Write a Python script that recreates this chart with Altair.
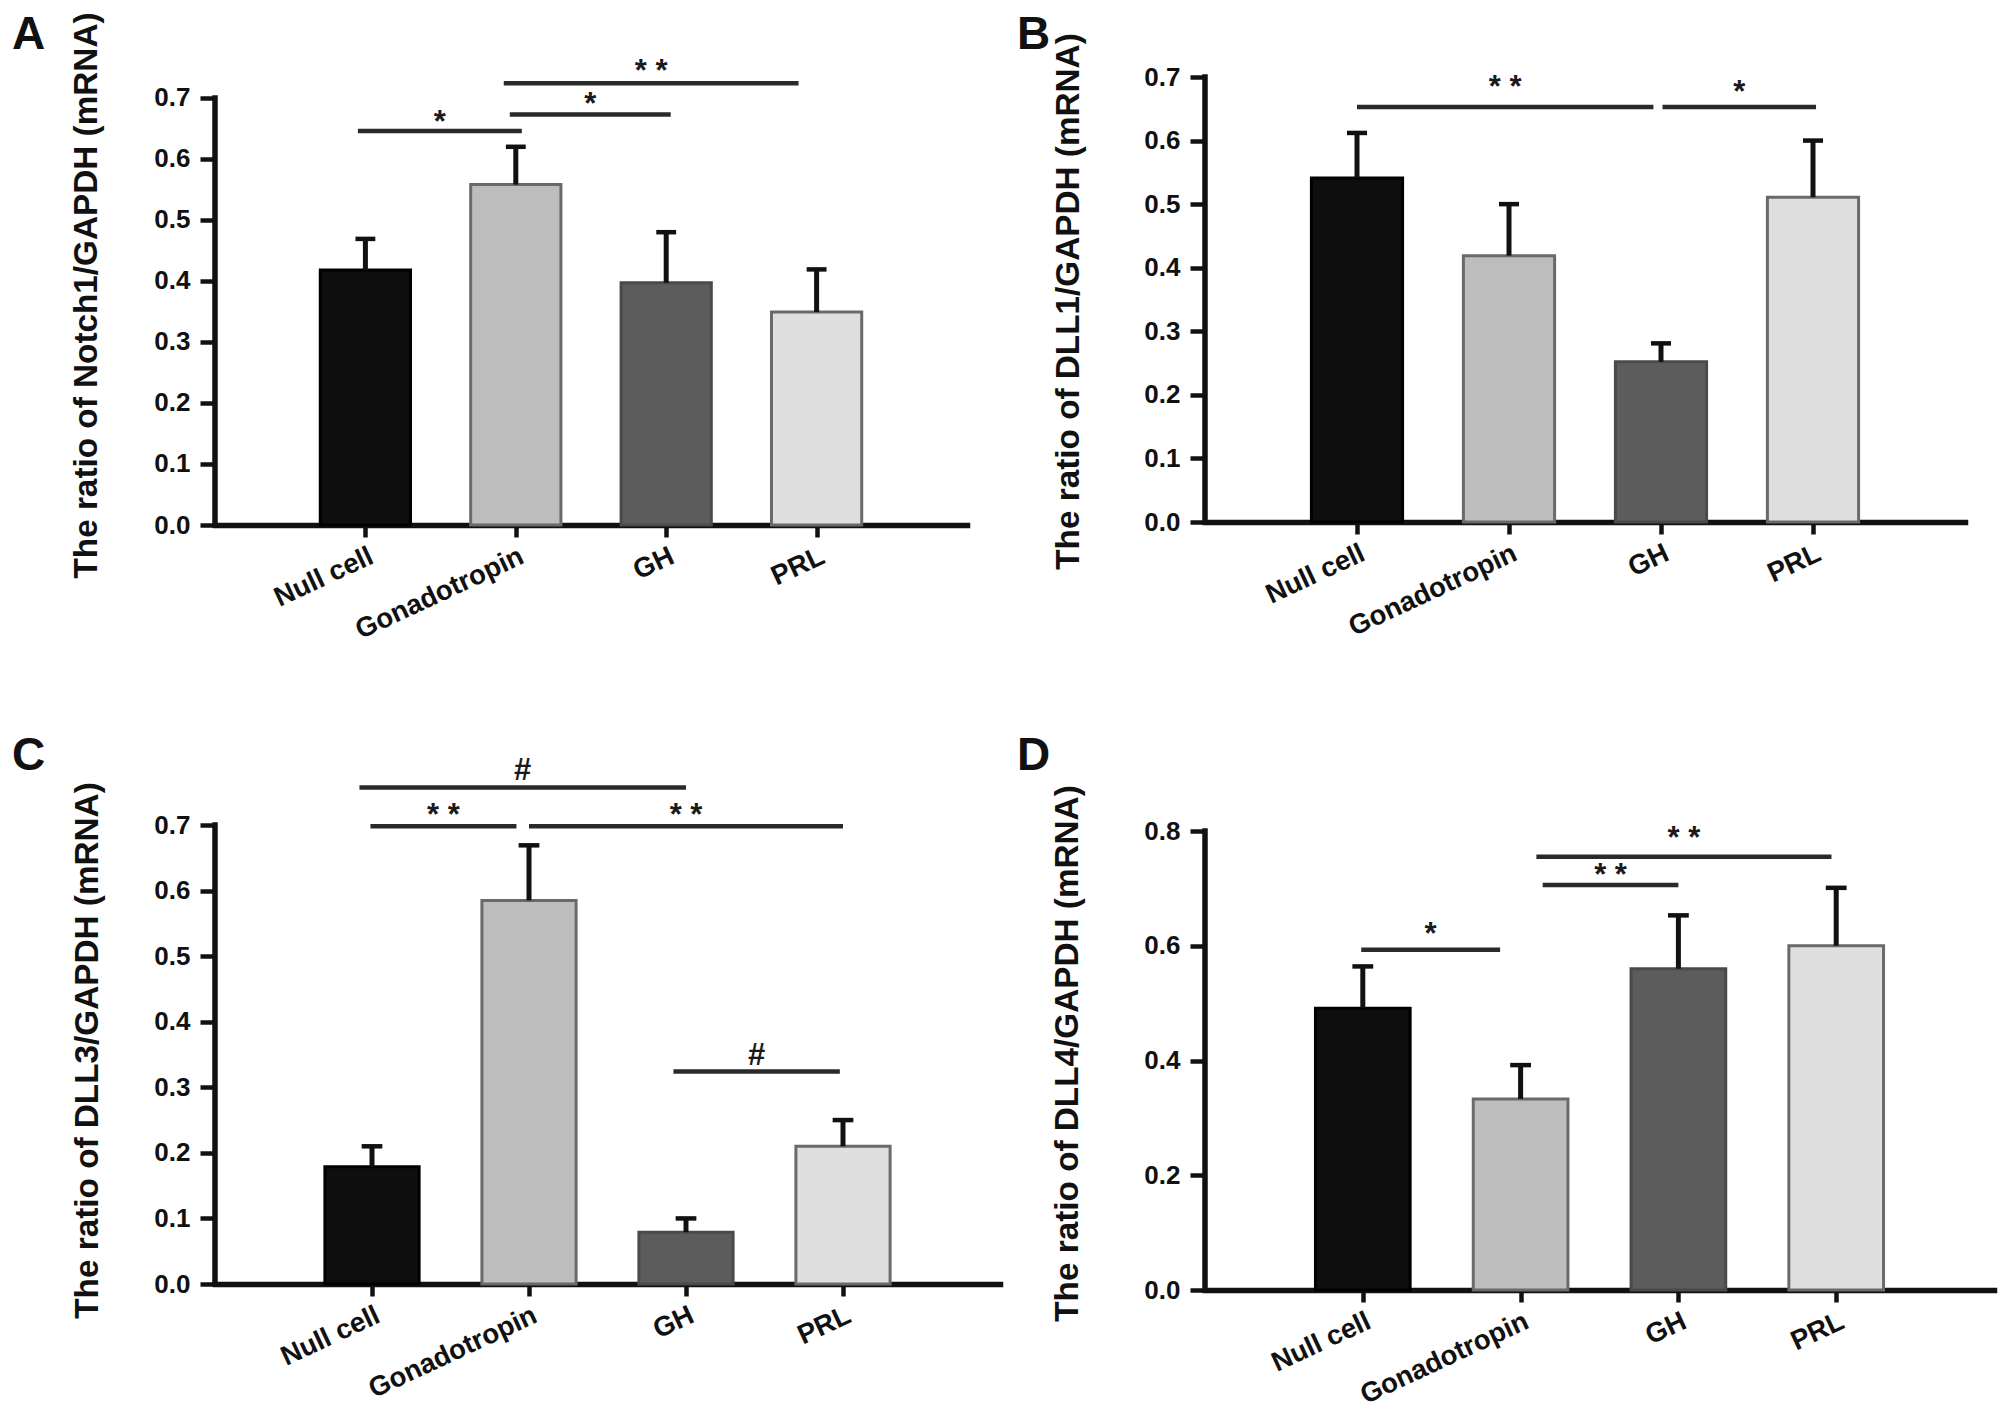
import json
import altair as alt
import pandas as pd

# ---------------- data ----------------
categories = ["Null cell", "Gonadotropin", "GH", "PRL"]
positions = [1, 2, 3, 4]

a_mean = [0.418, 0.558, 0.397, 0.349]
a_sd = [0.051, 0.062, 0.083, 0.070]
b_mean = [0.541, 0.419, 0.252, 0.511]
b_sd = [0.071, 0.081, 0.029, 0.089]
c_mean = [0.179, 0.585, 0.079, 0.210]
c_sd = [0.031, 0.084, 0.021, 0.040]
d_mean = [0.491, 0.333, 0.560, 0.600]
d_sd = [0.073, 0.059, 0.093, 0.101]

# significance brackets: from / to (category position), height, label, label height
a_sig_from = [0.95, 1.96, 1.92]
a_sig_to = [2.04, 3.03, 3.88]
a_sig_y = [0.646, 0.673, 0.724]
a_sig_label = ["*", "*", "* *"]
a_sig_label_y = [0.668, 0.696, 0.750]

b_sig_from = [1.00, 3.01]
b_sig_to = [2.95, 4.02]
b_sig_y = [0.653, 0.653]
b_sig_label = ["* *", "*"]
b_sig_label_y = [0.690, 0.683]

c_sig_from = [0.92, 0.99, 2.00, 2.92]
c_sig_to = [3.00, 1.92, 4.00, 3.98]
c_sig_y = [0.757, 0.698, 0.698, 0.324]
c_sig_label = ["#", "* *", "* *", "#"]
c_sig_label_y = [0.790, 0.722, 0.722, 0.356]

d_sig_from = [0.99, 2.14, 2.10]
d_sig_to = [1.87, 3.00, 3.97]
d_sig_y = [0.593, 0.706, 0.755]
d_sig_label = ["*", "* *", "* *"]
d_sig_label_y = [0.628, 0.730, 0.795]

a_title = "The ratio of Notch1/GAPDH (mRNA)"
b_title = "The ratio of DLL1/GAPDH (mRNA)"
c_title = "The ratio of DLL3/GAPDH (mRNA)"
d_title = "The ratio of DLL4/GAPDH (mRNA)"

ticks_07 = [0.0, 0.1, 0.2, 0.3, 0.4, 0.5, 0.6, 0.7]
ticks_08 = [0.0, 0.2, 0.4, 0.6, 0.8]

a_fill = ["#0e0e0e", "#bdbdbd", "#5c5c5c", "#dfdfdf"]
b_fill = ["#141414", "#bdbdbd", "#6c6c6c", "#dfdfdf"]
c_fill = ["#0e0e0e", "#bdbdbd", "#616161", "#dfdfdf"]
d_fill = ["#0e0e0e", "#bdbdbd", "#5e5e5e", "#dfdfdf"]
bar_stroke = ["#000000", "#6a6a6a", "#4a4a4a", "#6a6a6a"]

FONT = "Liberation Sans"
label_expr = "{}[datum.value]".format(json.dumps([""] + categories))


def panel(letter, title, means, sds, s_from, s_to, s_y, s_lab, s_ly, ticks, fills,
          width, height, ytop, title_x, title_y, letter_dx, letter_dy):
    bars = pd.DataFrame({"pos": positions, "cat": categories, "mean": means, "sd": sds})
    sig = pd.DataFrame({"x1": s_from, "x2": s_to, "y": s_y, "lab": s_lab, "ly": s_ly})
    yline = pd.DataFrame({"x": [0.0], "y0": [0.0], "y1": [ticks[-1]]})

    xscale = alt.Scale(domain=[0, 5], nice=False, zero=False)
    yscale = alt.Scale(domain=[0, ytop], nice=False, zero=True)
    xaxis = alt.Axis(values=positions, labelExpr=label_expr, title=None, grid=False,
                     domain=True, domainColor="#111111", domainWidth=5.5, domainCap="square",
                     ticks=True, tickColor="#111111", tickWidth=4.5, tickSize=12,
                     labelAngle=-25, labelAlign="right", labelBaseline="top", labelPadding=5,
                     labelOverlap=False, labelBound=False, labelFlush=False, labelLimit=500,
                     labelFont=FONT, labelFontSize=27.5, labelFontWeight="bold",
                     labelColor="#111111")
    yaxis = alt.Axis(values=ticks, format=".1f", title=title, grid=False, domain=False,
                     ticks=True, tickColor="#111111", tickWidth=4.5, tickSize=15,
                     labelOverlap=False,
                     labelFont=FONT, labelFontSize=26, labelFontWeight="bold",
                     labelColor="#111111", labelPadding=10,
                     titleFont=FONT, titleFontSize=33.3, titleFontWeight="bold",
                     titleColor="#111111", titleAngle=270, titleAlign="center",
                     titleBaseline="bottom", titleX=title_x, titleY=title_y, titleLimit=1000)

    def X(f):
        return alt.X(f, type="quantitative", scale=xscale, axis=xaxis)

    def Y(f):
        return alt.Y(f, type="quantitative", scale=yscale, axis=yaxis)

    base = alt.Chart(bars).transform_calculate(
        xl="datum.pos - 0.3", xr="datum.pos + 0.3", zero="0",
        top="datum.mean + datum.sd",
        cl="datum.pos - 0.066", cr="datum.pos + 0.066")

    bar_layer = base.mark_bar(strokeWidth=3).encode(
        x=X("xl"), x2="xr", y=Y("mean"), y2="zero:Q",
        color=alt.Color("cat:N", scale=alt.Scale(domain=categories, range=fills), legend=None),
        stroke=alt.Stroke("cat:N", scale=alt.Scale(domain=categories, range=bar_stroke), legend=None),
    )
    err_layer = base.mark_rule(strokeWidth=5, color="#111111").encode(
        x=X("pos"), y=Y("mean"), y2="top:Q")
    cap_layer = base.mark_rule(strokeWidth=4.5, color="#111111").encode(
        x=X("cl"), x2="cr:Q", y=Y("top"))
    sig_layer = alt.Chart(sig).mark_rule(strokeWidth=4.5, color="#2a2a2a").encode(
        x=X("x1"), x2="x2:Q", y=Y("y"))
    sig_text = alt.Chart(sig).transform_calculate(xm="(datum.x1 + datum.x2) / 2").mark_text(
        font=FONT, fontSize=31, fontWeight="bold", color="#1a1a1a", baseline="middle", dy=5
    ).encode(x=X("xm"), y=Y("ly"), text="lab:N")
    yline_layer = alt.Chart(yline).mark_rule(strokeWidth=5.5, color="#111111", strokeCap="square").encode(
        x=X("x"), y=Y("y0"), y2="y1:Q")

    return alt.layer(bar_layer, err_layer, cap_layer, sig_layer, sig_text, yline_layer).properties(
        width=width, height=height,
        title=alt.TitleParams(text=letter, anchor="start", frame="group", orient="top",
                              font=FONT, fontSize=46, fontWeight="bold", color="#111111",
                              baseline="alphabetic", offset=0, dx=letter_dx, dy=letter_dy),
    )


pA = panel("A", a_title, a_mean, a_sd, a_sig_from, a_sig_to, a_sig_y, a_sig_label, a_sig_label_y,
           ticks_07, a_fill, 752, 448, 0.7344, -112, 218, -203, 83)
pB = panel("B", b_title, b_mean, b_sd, b_sig_from, b_sig_to, b_sig_y, b_sig_label, b_sig_label_y,
           ticks_07, b_fill, 760, 445, 0.7, -120, 224, -188, 62)
pC = panel("C", c_title, c_mean, c_sd, c_sig_from, c_sig_to, c_sig_y, c_sig_label, c_sig_label_y,
           ticks_07, c_fill, 785, 459, 0.7, -111, 225, -203, 61)
pD = panel("D", d_title, d_mean, d_sd, d_sig_from, d_sig_to, d_sig_y, d_sig_label, d_sig_label_y,
           ticks_08, d_fill, 789, 465, 0.8105, -121, 228, -188, 31)

chart = alt.concat(pA, pB, pC, pD, columns=2,
                   spacing=alt.RowColnumber(row=300, column=205)).properties(
    bounds="flush", align="each",
    padding={"left": 4, "top": 3, "right": 5, "bottom": 5},
    background="white",
).configure(font=FONT, view=alt.ViewConfig(stroke=None))

chart.save("out.html", embed_options={"renderer": "svg", "actions": False})
